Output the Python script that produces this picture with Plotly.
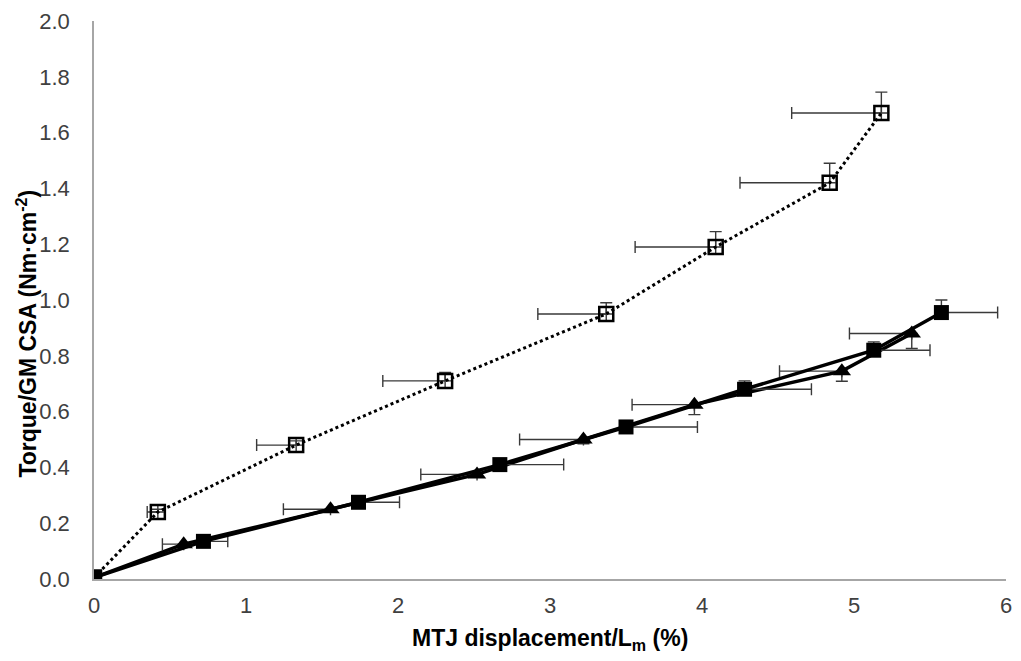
import plotly.graph_objects as go

# Series A: open squares, dotted line
a_x = [0, 0.42, 1.33, 2.31, 3.37, 4.09, 4.84, 5.18]
a_y = [0.005, 0.24, 0.48, 0.71, 0.95, 1.19, 1.42, 1.67]
a_xerr_minus = [0, 0.07, 0.26, 0.41, 0.45, 0.53, 0.59, 0.59]
a_yerr_plus = [0, 0.01, 0.015, 0.03, 0.04, 0.055, 0.07, 0.075]

# Series B: filled squares, solid line
b_x = [0, 0.72, 1.74, 2.67, 3.50, 4.28, 5.13, 5.575]
b_y = [0.005, 0.135, 0.275, 0.41, 0.545, 0.68, 0.82, 0.955]
b_xerr_plus = [0, 0.16, 0.27, 0.42, 0.47, 0.44, 0.37, 0.37]
b_yerr_plus = [0, 0.005, 0.01, 0.01, 0.015, 0.03, 0.03, 0.045]

# Series C: filled triangles, solid line
c_x = [0, 0.59, 1.556, 2.52, 3.22, 3.95, 4.92, 5.38]
c_y = [0.005, 0.125, 0.25, 0.375, 0.50, 0.625, 0.745, 0.88]
c_xerr_minus = [0, 0.14, 0.31, 0.37, 0.42, 0.41, 0.41, 0.41]
c_yerr_minus = [0, 0.005, 0.005, 0.01, 0.015, 0.036, 0.036, 0.054]

x_ticks = [0, 1, 2, 3, 4, 5, 6]
y_ticks = [0.0, 0.2, 0.4, 0.6, 0.8, 1.0, 1.2, 1.4, 1.6, 1.8, 2.0]

ERR_COLOR = "#3a3a3a"
FONT = "Liberation Sans, Arial, sans-serif"

fig = go.Figure()

fig.add_trace(go.Scatter(
    x=a_x, y=a_y, mode="lines+markers",
    line=dict(color="black", width=3, dash="dot"),
    marker=dict(symbol="square-open", size=14, color="black", line=dict(width=2.5, color="black")),
    error_x=dict(type="data", symmetric=False, array=[0]*len(a_x), arrayminus=a_xerr_minus,
                 color=ERR_COLOR, thickness=1.4, width=6),
    error_y=dict(type="data", symmetric=False, array=a_yerr_plus, arrayminus=[0]*len(a_x),
                 color=ERR_COLOR, thickness=1.4, width=6),
    showlegend=False,
))

fig.add_trace(go.Scatter(
    x=c_x, y=c_y, mode="lines+markers",
    line=dict(color="black", width=3.5),
    marker=dict(symbol="triangle-up", size=16, color="black"),
    error_x=dict(type="data", symmetric=False, array=[0]*len(c_x), arrayminus=c_xerr_minus,
                 color=ERR_COLOR, thickness=1.4, width=6),
    error_y=dict(type="data", symmetric=False, array=[0]*len(c_x), arrayminus=c_yerr_minus,
                 color=ERR_COLOR, thickness=1.4, width=6),
    showlegend=False,
))

fig.add_trace(go.Scatter(
    x=b_x, y=b_y, mode="lines+markers",
    line=dict(color="black", width=3.5),
    marker=dict(symbol="square", size=15, color="black"),
    error_x=dict(type="data", symmetric=False, array=b_xerr_plus, arrayminus=[0]*len(b_x),
                 color=ERR_COLOR, thickness=1.4, width=6),
    error_y=dict(type="data", symmetric=False, array=b_yerr_plus, arrayminus=[0]*len(b_x),
                 color=ERR_COLOR, thickness=1.4, width=6),
    showlegend=False,
))

fig.update_layout(
    width=1021, height=661,
    margin=dict(l=94, r=9, t=20, b=82),
    paper_bgcolor="white", plot_bgcolor="white",
    font=dict(family=FONT, size=22, color="#404040"),
    xaxis=dict(range=[0, 6], tickvals=x_ticks, ticktext=[str(v) for v in x_ticks],
               showgrid=False, zeroline=False, showline=True, linecolor="#a6a6a6", linewidth=1.5,
               ticks="", ticklabelstandoff=6),
    yaxis=dict(range=[0, 2], tickvals=y_ticks, ticktext=[f"{v:.1f}" for v in y_ticks],
               showgrid=False, zeroline=False, showline=True, linecolor="#a6a6a6", linewidth=1.5,
               ticks="", ticklabelstandoff=18),
    annotations=[
        dict(text="<b>MTJ displacement/L<sub>m</sub> (%)</b>", xref="paper", yref="paper",
             x=0.5, y=-0.109, xanchor="center", yanchor="middle", showarrow=False,
             font=dict(size=23, color="black", family=FONT)),
        dict(text="<b>Torque/GM CSA (Nm·cm<sup>-2</sup>)</b>", xref="paper", yref="paper",
             x=-0.092, y=0.44, xanchor="left", yanchor="middle", textangle=-90, showarrow=False,
             font=dict(size=23, color="black", family=FONT)),
    ],
)

fig.write_html("out.html")
